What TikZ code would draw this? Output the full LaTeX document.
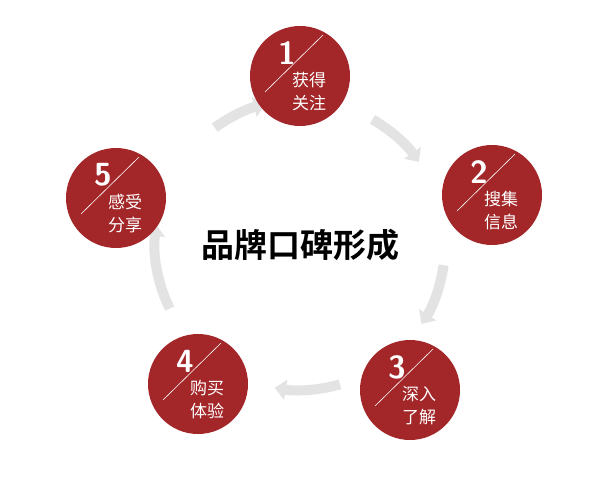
\documentclass[tikz,border=0pt]{standalone}
\usepackage{fontspec}
\newfontfamily\cjk{Noto Sans CJK SC}
\newfontfamily\cjkbold{Noto Sans CJK SC Bold}
\usetikzlibrary{arrows.meta,calc}
\definecolor{brandred}{RGB}{163,38,40}
\tikzset{
  stage/.style={circle, fill=brandred, minimum size=100pt, inner sep=0pt},
  flow/.style={line width=10pt, gray!22, -{Triangle[length=11pt,width=20pt]}},
}
\newcommand{\stagelabel}[4]{%
  \node[stage] (#1) at (#2) {};
  \draw[white, line width=0.6pt] ($(#1)+(-35,16)$) -- ($(#1)+(23,-41)$);
  \node[white, font=\sffamily\bfseries\fontsize{32}{32}\selectfont] at ($(#1)+(-13,-23)$) {#3};
  \node[white, font=\cjk\fontsize{17}{23}\selectfont, align=left, anchor=west, inner sep=0pt] at ($(#1)+(-8,16)$) {#4};
}
\begin{document}
\begin{tikzpicture}[x=1pt, y=-1pt]
\useasboundingbox (0,0) rectangle (609,494);
\fill[white] (0,0) rectangle (609,494);
\coordinate (ctr) at (300,245);
% arrows between stages
\foreach \a/\b in {126/104, 60/35, -8/-33, -74/-100, 206/172}
  \draw[flow] ($(ctr)+(\a:145 and -145)$) arc[start angle=-\a, end angle=-\b, radius=145];
\node[font=\cjkbold\fontsize{33}{33}\selectfont] (title) at (ctr) {品牌口碑形成};
\stagelabel{s1}{300,76}{1}{获得\\关注}
\stagelabel{s2}{492,195}{2}{搜集\\信息}
\stagelabel{s3}{410,390}{3}{深入\\了解}
\stagelabel{s4}{198,384}{4}{购买\\体验}
\stagelabel{s5}{116,198}{5}{感受\\分享}
\end{tikzpicture}
\end{document}
